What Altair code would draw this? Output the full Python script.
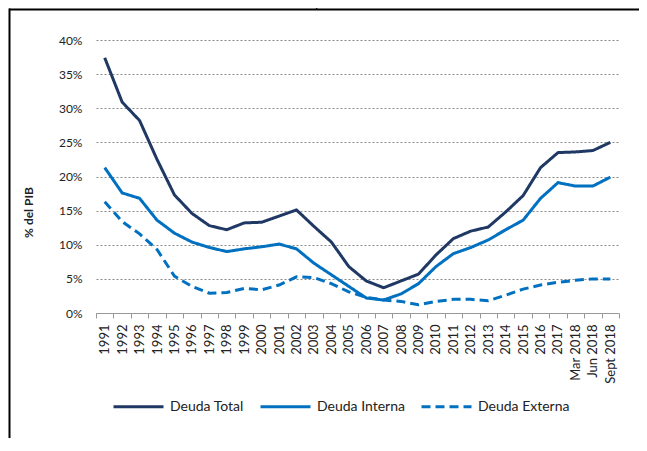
import altair as alt
import pandas as pd

categorias = [str(y) for y in range(1991, 2018)] + ["Mar 2018", "Jun 2018", "Sept 2018"]
deuda_total = [37.4, 30.9, 28.2, 22.5, 17.3, 14.6, 12.8, 12.2, 13.2, 13.3, 14.2, 15.1, 12.7, 10.4,
               6.8, 4.7, 3.7, 4.7, 5.7, 8.5, 10.9, 12.0, 12.6, 14.8, 17.2, 21.3, 23.5, 23.6, 23.8, 25.0]
deuda_interna = [21.3, 17.6, 16.8, 13.6, 11.7, 10.4, 9.6, 9.0, 9.4, 9.7, 10.1, 9.4, 7.3, 5.6,
                 3.9, 2.2, 1.9, 2.8, 4.3, 6.8, 8.7, 9.6, 10.7, 12.2, 13.6, 16.8, 19.1, 18.6, 18.6, 19.9]
deuda_externa = [16.3, 13.4, 11.6, 9.3, 5.4, 3.9, 2.9, 3.0, 3.6, 3.4, 4.1, 5.3, 5.2, 4.3,
                 3.1, 2.3, 1.9, 1.7, 1.2, 1.7, 2.0, 2.0, 1.8, 2.6, 3.5, 4.1, 4.5, 4.8, 5.0, 5.0]
series = ["Deuda Total", "Deuda Interna", "Deuda Externa"]
colores = ["#1F3864", "#0070C0", "#0070C0"]
y_ticks = [0, 5, 10, 15, 20, 25, 30, 35, 40]
titulo = "1991 – septiembre 2018"

rows = []
for name, vals in zip(series, [deuda_total, deuda_interna, deuda_externa]):
    for c, v in zip(categorias, vals):
        rows.append({"periodo": c, "serie": name, "valor": v})
df = pd.DataFrame(rows)

FONT = "Lato"
leg = alt.Legend(title=None, orient="none", legendX=16, legendY=340, direction="horizontal",
                 symbolType="stroke", symbolSize=2500, symbolStrokeWidth=3,
                 labelFontSize=14, labelFont=FONT, labelColor="#222222", labelOffset=5,
                 columnPadding=10)

lines = alt.Chart(df).mark_line(strokeWidth=3).encode(
    x=alt.X("periodo:N", sort=categorias, bandPosition=0.5,
            scale=alt.Scale(type="band", paddingInner=0, paddingOuter=0),
            axis=alt.Axis(title=None, labelAngle=-90, labelFontSize=13, labelFont=FONT,
                          labelColor="#222222", tickBand="extent", ticks=True, tickSize=5,
                          tickColor="#999999", domainColor="#999999", grid=False,
                          labelPadding=6)),
    y=alt.Y("valor:Q", scale=alt.Scale(domain=[0, 40], nice=False),
            axis=alt.Axis(title="% del PIB", values=y_ticks, labelExpr="datum.value + '%'",
                          labelFontSize=12, labelFont=FONT, labelColor="#222222",
                          domain=False, ticks=False, labelPadding=14,
                          grid=True, gridDash=[2, 2], gridColor="#888888", gridWidth=1,
                          titleFont=FONT, titleFontSize=12, titleFontWeight="bold",
                          titleColor="#222222", titleX=-68, titleY=172, titleAngle=270,
                          titleAlign="center", titleBaseline="middle")),
    color=alt.Color("serie:N", sort=series, scale=alt.Scale(domain=series, range=colores), legend=leg),
    strokeDash=alt.StrokeDash("serie:N", sort=series,
                              scale=alt.Scale(domain=series, range=[[1, 0], [1, 0], [9, 5]]),
                              legend=leg),
)

frame_top = alt.Chart().mark_rule(color="#000000", strokeWidth=2).encode(
    x=alt.value(-87), x2=alt.value(545), y=alt.value(-30.5))
frame_left = alt.Chart().mark_rule(color="#000000", strokeWidth=2).encode(
    x=alt.value(-86.5), y=alt.value(-31.5), y2=alt.value(400))
title_text = alt.Chart().mark_text(fontSize=14, font=FONT, color="#000000",
                                   baseline="alphabetic", align="center").encode(
    x=alt.value(234), y=alt.value(-33), text=alt.value(titulo))

chart = alt.layer(lines, frame_top, frame_left, title_text).properties(
    width=523, height=273,
    autosize=alt.AutoSizeParams(type="none"),
    padding={"left": 88, "top": 32, "right": 20, "bottom": 125},
).configure_view(stroke=None)

chart.save("out.html", embed_options={"renderer": "svg", "actions": False})
